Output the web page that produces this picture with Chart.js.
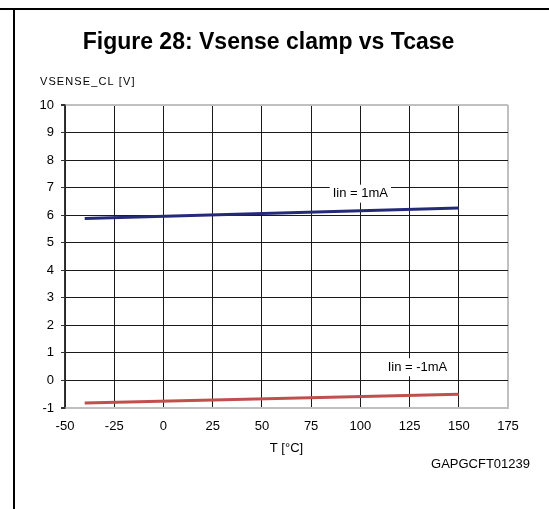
<!DOCTYPE html>
<html>
<head>
<meta charset="utf-8">
<script src="https://cdn.jsdelivr.net/npm/chart.js@4.4.1/dist/chart.umd.min.js"></script>
<style>
  html, body { margin: 0; padding: 0; background: #fff; }
  .wrap { position: relative; width: 549px; height: 509px; overflow: hidden; }
  .frame-top { position: absolute; left: 0; top: 8px; width: 549px; height: 2px; background: #000; }
  .frame-left { position: absolute; left: 13px; top: 8px; width: 2px; height: 501px; background: #000; }
  canvas { position: absolute; left: 0; top: 0; }
</style>
</head>
<body>
<div class="wrap">
  <canvas id="chart" width="549" height="509"></canvas>
  <div class="frame-top"></div>
  <div class="frame-left"></div>
</div>
<script>
// 数据：Vsense clamp vs Tcase
const temps = [-40, 150]
const vClampPos = [5.88, 6.26]   // Iin = 1mA
const vClampNeg = [-0.82, -0.5]  // Iin = -1mA
const xTicks = [-50, -25, 0, 25, 50, 75, 100, 125, 150, 175]
const yTicks = [-1, 0, 1, 2, 3, 4, 5, 6, 7, 8, 9, 10]
const seriesLabels = ['Iin = 1mA', 'Iin = -1mA']
// 曲线标注的位置（数据坐标）
const labelAt = [{ x: 100, y: 6.78 }, { x: 129, y: 0.48 }]

const FONT = 'Arial, "Liberation Sans", sans-serif'
const GRID = '#1a1a1a'
const EDGE = '#c0c0c0'

const pts = (ys) => temps.map((t, i) => ({ x: t, y: ys[i] }))

// 图外文字 + 曲线标签
const textPlugin = {
  id: 'texts',
  afterDraw(chart) {
    const c = chart.ctx
    const xs = chart.scales.x, ys = chart.scales.y
    const area = chart.chartArea
    c.save()
    c.fillStyle = '#000'
    c.textBaseline = 'middle'
    c.textAlign = 'center'
    c.font = 'bold 23px ' + FONT
    c.fillText('Figure 28: Vsense clamp vs Tcase', 268.5, 43)

    c.font = '11px ' + FONT
    c.textAlign = 'left'
    c.letterSpacing = '1.1px'
    c.fillText('VSENSE_CL [V]', 40, 82)
    c.letterSpacing = '0px'

    c.font = '13px ' + FONT
    c.textAlign = 'center'
    c.fillText('T [°C]', (area.left + area.right) / 2, 448)
    c.textAlign = 'right'
    c.fillText('GAPGCFT01239', 530, 464)

    // 带白底的曲线标签
    c.textAlign = 'center'
    seriesLabels.forEach((txt, i) => {
      const px = xs.getPixelForValue(labelAt[i].x)
      const py = ys.getPixelForValue(labelAt[i].y)
      const w = c.measureText(txt).width + 6
      c.fillStyle = '#fff'
      c.fillRect(px - w / 2, py - 9, w, 18)
      c.fillStyle = '#000'
      c.fillText(txt, px, py)
    })
    c.restore()
  }
}

new Chart(document.getElementById('chart'), {
  type: 'line',
  data: {
    datasets: [
      { label: seriesLabels[0], data: pts(vClampPos), borderColor: '#252a78', borderWidth: 3, pointRadius: 0, borderCapStyle: 'butt', tension: 0 },
      { label: seriesLabels[1], data: pts(vClampNeg), borderColor: '#c0504d', borderWidth: 3, pointRadius: 0, borderCapStyle: 'butt', tension: 0 },
    ]
  },
  options: {
    responsive: false,
    animation: false,
    devicePixelRatio: 1,
    layout: { padding: { top: 105, left: 0, right: 41, bottom: 0 } },
    plugins: { legend: { display: false }, title: { display: false }, tooltip: { enabled: false } },
    scales: {
      x: {
        type: 'linear', min: xTicks[0], max: xTicks[xTicks.length - 1],
        afterBuildTicks: (s) => { s.ticks = xTicks.map(v => ({ value: v })) },
        afterFit: (s) => { s.height = 101 },
        grid: {
          drawTicks: false,
          color: (ctx) => ctx.tick && ctx.tick.value === 175 ? EDGE : GRID,
          lineWidth: (ctx) => ctx.tick && ctx.tick.value === 175 ? 2 : 1,
        },
        border: { color: EDGE, width: 2 },
        ticks: { color: '#000', font: { family: FONT, size: 13 }, padding: 11, maxRotation: 0 },
      },
      y: {
        type: 'linear', min: yTicks[0], max: yTicks[yTicks.length - 1],
        afterBuildTicks: (s) => { s.ticks = yTicks.map(v => ({ value: v })) },
        afterFit: (s) => { s.width = 65 },
        grid: {
          tickLength: 4,
          tickColor: '#333',
          color: (ctx) => ctx.tick && (ctx.tick.value === 10 || ctx.tick.value === -1) ? EDGE : GRID,
          lineWidth: (ctx) => ctx.tick && (ctx.tick.value === 10 || ctx.tick.value === -1) ? 2 : 1,
        },
        border: { color: '#333', width: 1.5 },
        ticks: { color: '#000', font: { family: FONT, size: 13 }, padding: 7 },
      }
    }
  },
  plugins: [textPlugin]
})
</script>
</body>
</html>
